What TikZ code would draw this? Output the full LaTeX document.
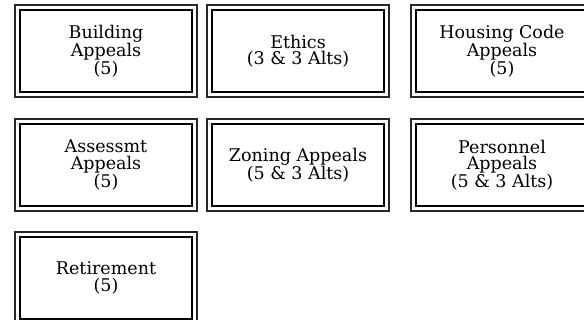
\documentclass[tikz,border=0pt]{standalone}
\usepackage{fontspec}
\setmainfont{DejaVu Serif}
\usepackage{tikz}
\usetikzlibrary{positioning, calc}
\tikzset{
    board/.style={draw=black, line width=2pt, minimum width=172pt, minimum height=82pt, align=center, inner sep=0pt},
    frame/.style={draw=black!85, line width=1.3pt}
}

\begin{document}
\begin{tikzpicture}[x=1pt, y=1pt, every node/.style={font=\fontsize{17.5}{16.5}\selectfont}]
  \useasboundingbox (0,0) rectangle (584,320);
  \node[board] (bld) at (106,269) {Building\\Appeals\\(5)};
  \node[board] (eth) at (298,269) {Ethics\\(3 \& 3 Alts)};
  \node[board] (hsg) at (502,269) {Housing Code\\Appeals\\(5)};

  \node[board] (asm) at (106,155) {Assessmt\\Appeals\\(5)};
  \node[board] (zon) at (298,155) {Zoning Appeals\\(5 \& 3 Alts)};
  \node[board] (per) at (502,155) {Personnel\\Appeals\\(5 \& 3 Alts)};

  \node[board] (ret) at (106,42) {Retirement\\(5)};

  \foreach \n in {bld,eth,hsg,asm,zon,per,ret}
    \draw[frame] ($(\n.south west)+(-4,-4)$) rectangle ($(\n.north east)+(4,4)$);
\end{tikzpicture}
\end{document}
